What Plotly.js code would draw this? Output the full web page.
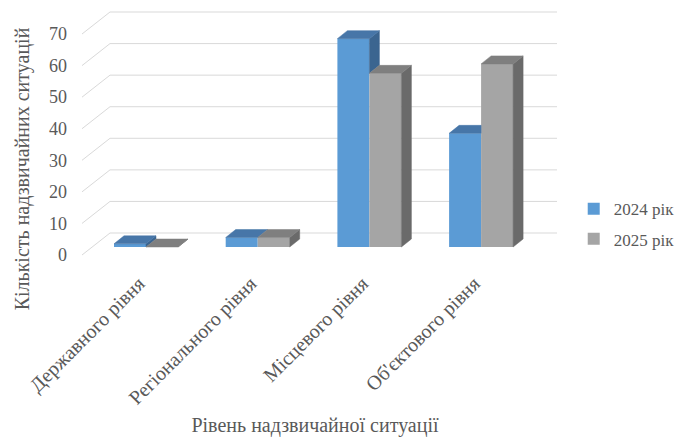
<!DOCTYPE html>
<html>
<head>
<meta charset="utf-8">
<script src="https://cdn.plot.ly/plotly-3.0.1.min.js"></script>
<style>html,body{margin:0;padding:0;background:#fff;}#chart{width:678px;height:437px;}</style>
</head>
<body>
<div id="chart"></div>
<script>
// ---- data ----
const categories = ['Державного рівня', 'Регіонального рівня', 'Місцевого рівня', "Об'єктового рівня"];
const values2024 = [1, 3, 66, 36];
const values2025 = [0, 3, 55, 58];
const seriesNames = ['2024 рік', '2025 рік'];
const yTicks = [0, 10, 20, 30, 40, 50, 60, 70];
const xTitle = 'Рівень надзвичайної ситуації';
const yTitle = 'Кількість надзвичайних ситуацій';

// ---- geometry / style (pseudo-3D projection) ----
const PX_X = 111.7, PX_Y = 3.157;
const L = 70, R = 118, T = 8, B = 107;
const W = 678, H = 437;
const plotW = W - L - R, plotH = H - T - B;
const XMIN = -(146 - L) / PX_X, XMAX = XMIN + plotW / PX_X;
const FRONT_SHIFT = 22 / PX_Y;
const BASE = -14 / PX_Y;
const DDX = 10 / PX_X, DDY = 8 / PX_Y;
const BARW = 32 / PX_X;
const FRONT_X = XMIN + 12 / PX_X;
const WALL_X0 = FRONT_X + 28 / PX_X;
const WALL_X1 = XMIN + (557 - L) / PX_X;
const YMIN = -FRONT_SHIFT - (H - B - 255) / PX_Y;
const YMAX = YMIN + plotH / PX_Y;
const axisPos = (H - B - 255) / plotH;

const FONT = "'Liberation Serif', 'Times New Roman', serif";
const TXT = '#595959';
const C24 = {front: '#5B9BD5', top: '#4776A8', side: '#3B6590'};
const C25 = {front: '#A5A5A5', top: '#7F7F7F', side: '#6A6A6A'};

const xIdx = categories.map((_, i) => i);

function pushPoly(arr, xs, ys) {
  arr.x.push(...xs, xs[0], null);
  arr.y.push(...ys, ys[0], null);
}
const top24 = {x: [], y: []}, side24 = {x: [], y: []}, top25 = {x: [], y: []}, side25 = {x: [], y: []};
xIdx.forEach(i => {
  const t1 = BASE + values2024[i], t2 = BASE + values2025[i];
  const a0 = i - BARW, a1 = i, b0 = i, b1 = i + BARW;
  if (t2 > t1) {
    pushPoly(top24, [a0, a1, a1, a0 + DDX], [t1, t1, t1 + DDY, t1 + DDY]);
  } else {
    pushPoly(top24, [a0, a1, a1 + DDX, a0 + DDX], [t1, t1, t1 + DDY, t1 + DDY]);
  }
  if (t1 > t2) {
    pushPoly(side24, [a1, a1, a1 + DDX, a1 + DDX], [t2, t1, t1 + DDY, t2 + DDY]);
  }
  pushPoly(top25, [b0, b1, b1 + DDX, b0 + DDX], [t2, t2, t2 + DDY, t2 + DDY]);
  pushPoly(side25, [b1, b1, b1 + DDX, b1 + DDX], [BASE, t2, t2 + DDY, BASE + DDY]);
});

function faceTrace(d, color) {
  return {type: 'scatter', mode: 'lines', x: d.x, y: d.y, fill: 'toself', fillcolor: color,
    line: {color: color, width: 0.5}, showlegend: false, hoverinfo: 'skip'};
}

const traces = [
  {type: 'bar', name: seriesNames[0], legendgroup: 'a', x: xIdx, y: values2024, base: BASE, offset: -BARW, width: BARW,
   marker: {color: C24.front, line: {width: 0}}},
  {type: 'bar', name: seriesNames[1], legendgroup: 'b', x: xIdx, y: values2025, base: BASE, offset: 0, width: BARW,
   marker: {color: C25.front, line: {width: 0}}},
  faceTrace(side24, C24.side), faceTrace(top24, C24.top),
  faceTrace(side25, C25.side), faceTrace(top25, C25.top)
];

const shapes = [];
yTicks.forEach(v => {
  shapes.push({type: 'line', xref: 'x', yref: 'y', layer: 'below', x0: WALL_X0, x1: WALL_X1, y0: v, y1: v,
    line: {color: '#D9D9D9', width: 1}});
  shapes.push({type: 'line', xref: 'x', yref: 'y', layer: 'below', x0: FRONT_X, x1: WALL_X0, y0: v - FRONT_SHIFT, y1: v,
    line: {color: '#D9D9D9', width: 1}});
});

const layout = {
  width: W, height: H,
  margin: {l: L, r: R, t: T, b: B, pad: 0, autoexpand: false},
  paper_bgcolor: '#ffffff', plot_bgcolor: 'rgba(0,0,0,0)',
  barmode: 'overlay',
  showlegend: true,
  font: {family: FONT, color: TXT, size: 18},
  xaxis: {
    range: [XMIN, XMAX], anchor: 'free', position: axisPos,
    tickmode: 'array', tickvals: xIdx, ticktext: categories, tickangle: -45,
    showgrid: false, zeroline: false, showline: false, ticks: '',
    tickfont: {family: FONT, size: 20, color: TXT}, ticklabelstandoff: 12, ticklabelshift: -7,
    title: {text: xTitle, font: {family: FONT, size: 20, color: TXT}, standoff: 14}
  },
  yaxis: {
    range: [YMIN, YMAX],
    tickmode: 'array', tickvals: yTicks.map(v => v - FRONT_SHIFT), ticktext: yTicks.map(String),
    showgrid: false, zeroline: false, showline: false, ticks: '',
    tickfont: {family: FONT, size: 18, color: TXT}, ticklabelstandoff: 2,
    title: {text: yTitle, font: {family: FONT, size: 20, color: TXT}, standoff: 14}
  },
  legend: {x: 1.028, xanchor: 'left', y: 0.431, yanchor: 'top', font: {family: FONT, size: 17, color: TXT},
    bgcolor: 'rgba(0,0,0,0)', tracegroupgap: 5, itemwidth: 30},
  shapes: shapes
};

Plotly.newPlot('chart', traces, layout, {staticPlot: true, displayModeBar: false});
</script>
</body>
</html>
